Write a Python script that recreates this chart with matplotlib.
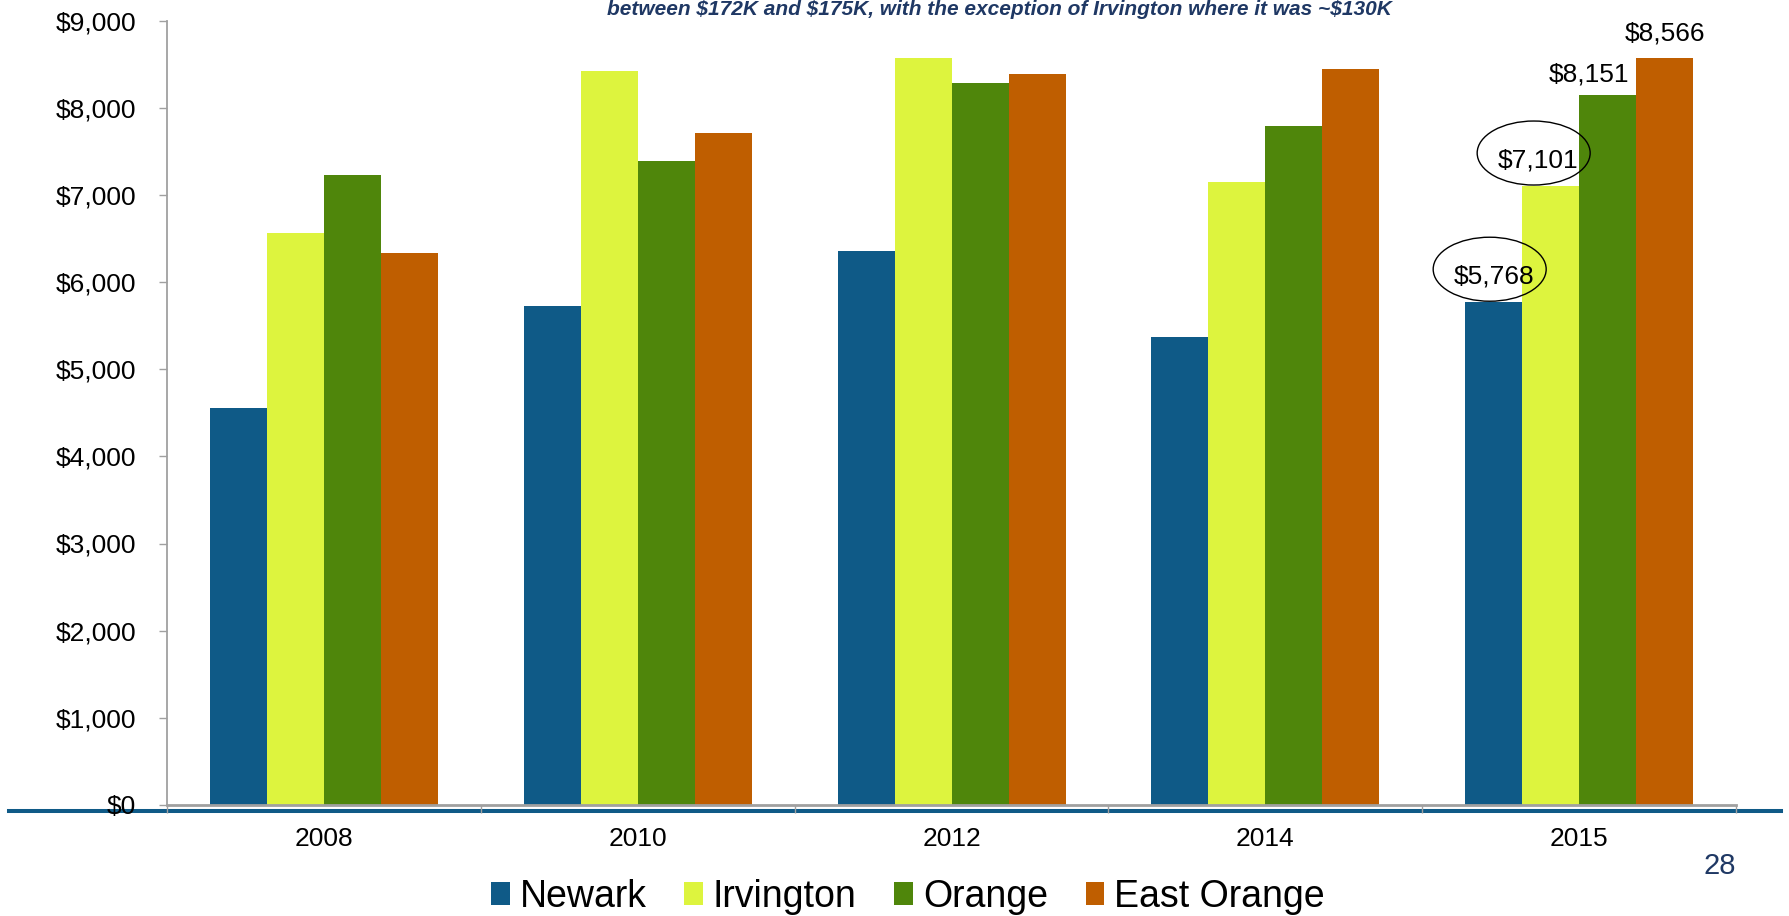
import matplotlib
matplotlib.use("Agg")
import matplotlib.pyplot as plt
import numpy as np
from matplotlib.lines import Line2D
from matplotlib.patches import Ellipse
from matplotlib.transforms import ScaledTranslation

plt.rcParams['font.family'] = ['Liberation Sans', 'DejaVu Sans']

# Data
years = ["2008", "2010", "2012", "2014", "2015"]
newark = [4550, 5720, 6360, 5370, 5768]
irvington = [6560, 8420, 8570, 7150, 7101]
orange = [7230, 7390, 8280, 7790, 8151]
east_orange = [6330, 7710, 8390, 8440, 8566]
series_names = ["Newark", "Irvington", "Orange", "East Orange"]
y_ticks = [0, 1000, 2000, 3000, 4000, 5000, 6000, 7000, 8000, 9000]
note = "between $172K and $175K, with the exception of Irvington where it was ~$130K"
page_number = "28"

colors = ["#0F5A87", "#DDF43E", "#4F860B", "#BF5E00"]
series = [newark, irvington, orange, east_orange]

W, H, DPI = 1789, 916, 100
fig = plt.figure(figsize=(W / DPI, H / DPI), dpi=DPI)
ax = fig.add_axes([167 / W, 1 - 805 / H, (1736 - 167) / W, (805 - 20.5) / H])

n_groups = len(years)
bar_w = 0.1816
group_left = 0.137
x = np.arange(n_groups)

bars = []
for i, (vals, c, name) in enumerate(zip(series, colors, series_names)):
    b = ax.bar(x + group_left + bar_w * (i + 0.5), vals, width=bar_w,
               color=c, edgecolor="none", label=name, zorder=2)
    bars.append(b)

ax.set_xlim(0, n_groups)
ax.set_ylim(0, 9000)

# axes styling
gray = "#A0A0A0"
for s in ["top", "right"]:
    ax.spines[s].set_visible(False)
ax.spines["left"].set_color(gray)
ax.spines["left"].set_linewidth(1.3)
ax.spines["bottom"].set_color(gray)
ax.spines["bottom"].set_linewidth(2.0)

ax.set_yticks(y_ticks)
ax.set_yticklabels([f"${v:,}" for v in y_ticks])
ax.tick_params(axis="y", direction="out", length=5.8, width=1.0, color=gray,
               pad=16.5, labelsize=19, labelcolor="black")

ax.set_xticks(np.arange(n_groups + 1))
ax.set_xticklabels([])
ax.tick_params(axis="x", which="major", direction="out", length=5.8,
               width=1.0, color=gray)
ax.set_xticks(x + 0.5, minor=True)
ax.set_xticklabels(years, minor=True)
ax.tick_params(axis="x", which="minor", length=0, pad=16,
               labelsize=19, labelcolor="black")

# value labels on the last group, circled where highlighted
last = n_groups - 1
label_dx = [0, -13, -19, 0]
label_dy = [19, 19, 13, 18]
circled = [True, True, False, False]
for i, vals in enumerate(series):
    xc = last + group_left + bar_w * (i + 0.5)
    v = vals[last]
    ax.annotate(f"${v:,}", xy=(xc, v), xytext=(label_dx[i], label_dy[i]),
                textcoords="offset pixels", ha="center", va="baseline",
                fontsize=19, color="black", zorder=5)
    if circled[i]:
        e = Ellipse((label_dx[i] - 4, label_dy[i] + 14), width=113, height=64,
                    fill=False, edgecolor="black", linewidth=1.0,
                    transform=ScaledTranslation(xc, v, ax.transData),
                    zorder=6, clip_on=False)
        ax.add_artist(e)

# slide rule line under the axis
fig.add_artist(Line2D([9 / W, 1781 / W], [1 - 811 / H, 1 - 811 / H],
                      color="#0F5A87", linewidth=2.9, zorder=-1,
                      transform=fig.transFigure))

# note text at the top
fig.text(999 / W, 1 - 15 / H, note, ha="center", va="baseline",
         fontsize=15, fontweight="bold", fontstyle="italic", color="#1F3864")

# page number
fig.text(1720 / W, 1 - 866 / H, page_number, ha="center", va="center",
         fontsize=21, color="#1F3864")

# legend
leg = fig.legend(handles=bars, labels=series_names, loc="center",
                 bbox_to_anchor=(908 / W, 1 - 897 / H), ncol=4, frameon=False,
                 fontsize=27, handlelength=0.5, handleheight=0.55,
                 handletextpad=0.27, columnspacing=1.0, borderpad=0)

fig.savefig("out.png", dpi=DPI)
